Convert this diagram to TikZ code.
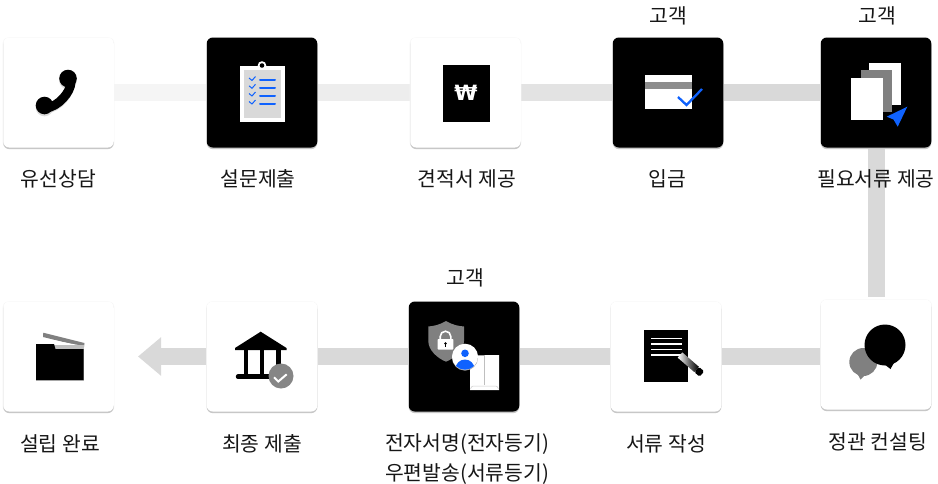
\documentclass[tikz,border=0pt]{standalone}
\usepackage{fontspec}
\setmainfont{Noto Sans CJK KR}
\newfontfamily\wonfont{DejaVu Sans}
\usetikzlibrary{arrows.meta,backgrounds,shadows}
\definecolor{ibmblue}{HTML}{0F62FE}
\definecolor{ink}{HTML}{161616}
\definecolor{midgrey}{HTML}{808080}
\definecolor{barc}{HTML}{D9D9D9}
\tikzset{
  x=1pt,y=-1pt,
  card/.style={rectangle,rounded corners=6pt,minimum width=110.5pt,minimum height=110pt,inner sep=0pt,
    general shadow={fill=black!4,shadow xshift=0pt,shadow yshift=-0.5pt,shadow scale=1.01},
    general shadow={fill=black!22,shadow xshift=0pt,shadow yshift=-1.6pt}},
  lightcard/.style={card,fill=white},
  darkcard/.style={card,fill=black},
  lab/.style={anchor=base,font=\fontsize{20.4}{26}\selectfont,text=ink,inner sep=0pt,align=center},
  bar/.style={line width=17pt,draw=barc},
  chk/.style={draw=ibmblue,line width=1pt,line join=miter},
  lst/.style={draw=ibmblue,line width=2pt,line cap=round},
}
\begin{document}
\begin{tikzpicture}
\useasboundingbox (0,0) rectangle (938,483);
% cards
\node[lightcard] (c1) at (58.5,92.5) {};
\node[darkcard]  (c2) at (262,92.5) {};
\node[lightcard] (c3) at (465.5,92.5) {};
\node[darkcard]  (c4) at (668,92.5) {};
\node[darkcard]  (c5) at (876,92.5) {};
\node[lightcard] (c6) at (876,354.5) {};
\node[lightcard] (c7) at (666,356.5) {};
\node[darkcard]  (c8) at (464,356.5) {};
\node[lightcard] (c9) at (262,356.5) {};
\node[lightcard] (c10) at (58.5,356.5) {};
\coordinate (tip) at (138,356.5);
% connectors
\begin{pgfonlayer}{background}
\fill[white] (0,0) rectangle (938,483);
\draw[bar,draw=black!4] (c1) -- (c2);
\draw[bar,draw=black!7] (c2) -- (c3);
\draw[bar,draw=black!11] (c3) -- (c4);
\draw[bar,draw=black!15] (c4) -- (c5);
\draw[bar,shorten >=2pt] (c5) -- (c6.north);
\draw[bar] (c6 |- c7) -- (c7);
\draw[bar] (c7) -- (c8);
\draw[bar] (c8) -- (c9);
\draw[bar,-{Triangle[length=23pt,width=37pt]}] (c9) -- (tip);
\end{pgfonlayer}
% labels
\node[lab] (t1) at (58.5,186) {유선상담};
\node[lab] (t2) at (258,186) {설문제출};
\node[lab] (t3) at (467,186) {견적서 제공};
\node[lab] (t4) at (667,186) {입금};
\node[lab] (t5) at (876,186) {필요서류 제공};
\node[lab] (h4) at (668,23) {고객};
\node[lab] (h5) at (877,23) {고객};
\node[lab] (h8) at (465,285) {고객};
\node[lab] (t6) at (878,449) {정관 컨설팅};
\node[lab] (t7) at (666,451) {서류 작성};
\node[lab] (t8a) at (467,450.5) {전자서명(전자등기)};
\node[lab] (t8b) at (467,480.5) {우편발송(서류등기)};
\node[lab] (t9) at (262,451) {최종 제출};
\node[lab] (t10) at (60,451) {설립 완료};
% phone
\begin{scope}[shift={(0,2)}]
\fill[black!14] (68,78.5) circle (8.8);
\fill[black!14] (44.5,105.5) circle (8.8);
\draw[black!14,line width=9pt,line cap=round] (70,82) .. controls (70,92) and (58,106) .. (46,107);
\end{scope}
\fill (68,78.5) circle (8.8);
\fill (44.5,105.5) circle (8.8);
\draw[line width=9pt,line cap=round] (71,82) .. controls (71,92) and (58,107) .. (46,108);
% clipboard
\fill[white] (262,65.5) circle (4.3);
\fill[white] (239.5,66) rectangle (284.5,122);
\fill[black] (262,65.5) circle (2.3);
\fill[black!15] (243.5,70) rectangle (281,118);
\foreach \yy in {79.5,87.3,95,103}{
  \draw[lst] (260,\yy+.5) -- (275,\yy+.5);
  \draw[chk] (249,\yy-1.5) -- (252,\yy+1) -- (255.5,\yy-3);
}
% won
\fill (442.5,64.5) rectangle (489.5,121.5);
\node[inner sep=0pt,text=white] (won) at (466,93) {\wonfont\bfseries\fontsize{21}{21}\selectfont ₩};
% card
\fill[white] (644.5,75) rectangle (691.5,109);
\fill[midgrey!90] (644.5,82) rectangle (691.5,88.5);
\draw[ibmblue,line width=2.3pt] (678,97) -- (686.5,105) -- (702,89);
% docs
\fill[white] (869.3,63.3) rectangle (901,105);
\fill[midgrey] (860.7,70) rectangle (891.5,112);
\fill[white] (851,78) rectangle (882.8,120);
\fill[ibmblue] (907.3,106.7) -- (886.7,116.7) -- (893.5,119.5) -- (897.7,126.7) -- cycle;
% chat
\fill[midgrey] (863.3,362) circle (14);
\fill[midgrey] (857,373) -- (860.5,379.5) -- (866,374) -- cycle;
\fill (885,345) circle (20.5);
\fill (884,364) -- (890.5,369) -- (895,361) -- cycle;
% pen and paper
\fill (644.3,330) rectangle (687.8,382);
\foreach \yy in {338.5,344,349.5,355}{\fill[white] (651,\yy-.9) rectangle (682,\yy+.9);}
\begin{scope}[shift={(680,355)},rotate=-41]
  \shade[left color=white,right color=black,middle color=black!55] (0,-3.5) rectangle (22,3.5);
  \fill[rounded corners=1.5pt] (22,-3.5) rectangle (29,3.5);
\end{scope}
% shield
\fill[midgrey] (446,321) .. controls (439,325) and (434,326) .. (428.3,326.5)
  -- (428.3,341) .. controls (428.3,350) and (437,358) .. (446,361.7)
  .. controls (455,358) and (464,350) .. (464,341) -- (464,326.5)
  .. controls (458,326) and (453,325) .. (446,321) -- cycle;
\draw[white,line width=1.6pt] (440.2,340) -- (440.2,336.5) arc[start angle=180,end angle=360,radius=5.3] -- (450.8,340);
\fill[white,rounded corners=.7pt] (437.6,339) rectangle (453.4,349.5);
\fill (445.5,343.5) circle (1.3);
\fill (445,343.5) rectangle (446,346.5);
% envelope
\fill[white] (470,355.5) -- (499,355) -- (499,390) -- (470,390) -- cycle;
\draw[black!25,line width=.5pt] (484.5,356) -- (484.5,385);
\draw[black!20,line width=.5pt,rounded corners=1pt] (470.5,389) -- (472,386) -- (497,386) -- (498.5,389);
% person
\fill[black!35] (465,357.6) circle (13);
\fill[white] (465,356.7) circle (13);
\begin{scope}
  \clip (465,356.7) circle (13);
  \fill[ibmblue] (465,353.3) circle (3.8);
  \fill[ibmblue] (465,369) ellipse (9.5 and 9.5);
\end{scope}
% bank
\fill (260.7,331.7) -- (286.5,348) -- (286.5,350) -- (235,350) -- (235,348) -- cycle;
\fill (243.5,349) rectangle (248.3,376);
\fill (260,349) rectangle (264.3,376);
\fill (276,349) rectangle (280.7,376);
\draw[line width=4.5pt,line cap=round] (238,376.7) -- (272,376.7);
\fill[midgrey!95] (281,376) circle (12.5);
\draw[white,line width=2pt] (274,377.3) -- (278.3,381.5) -- (286.7,374.3);
% folder
\fill[midgrey] (43.3,332.7) -- (84.5,343) -- (84,347) -- (43,337) -- cycle;
\fill[white] (38.3,337.5) -- (83.5,346) -- (83.5,350) -- (38,350) -- cycle;
\fill[black!25] (36,345) rectangle (84,381.3);
\fill (36,344) -- (54,344) -- (55.5,349) -- (83.5,349) -- (83.5,380) -- (36,380) -- cycle;
\end{tikzpicture}
\end{document}
